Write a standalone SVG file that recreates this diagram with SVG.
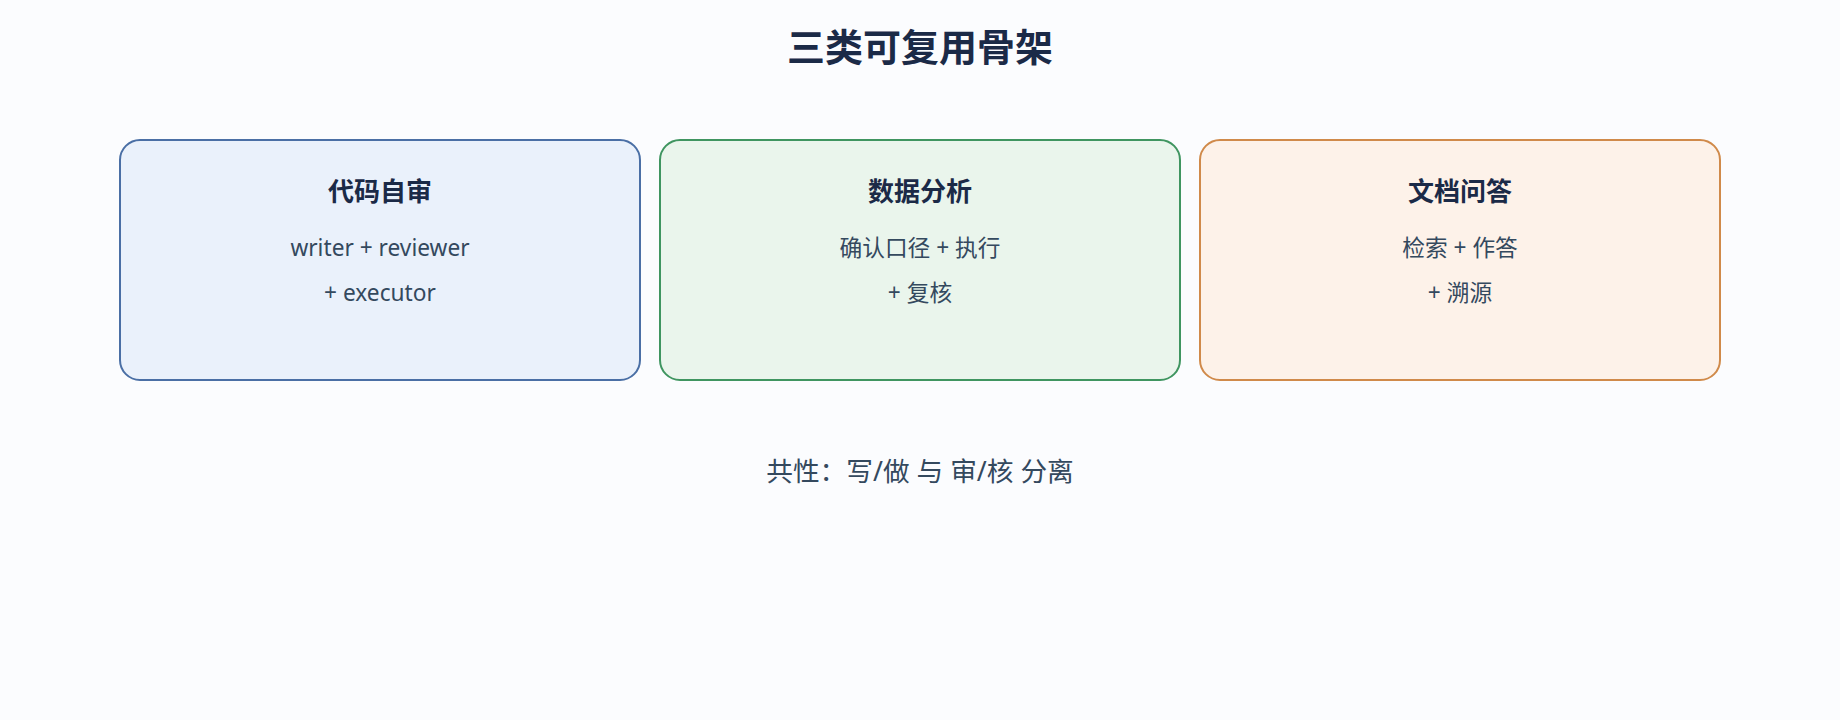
<svg xmlns="http://www.w3.org/2000/svg" width="1840" height="720" viewBox="0 0 1840 720">
<style>
.t{font-family:"Noto Sans","Noto Sans CJK SC",sans-serif;text-anchor:middle}
.title{font-size:38px;font-weight:700;fill:#1b2a47}
.h{font-size:26px;font-weight:700;fill:#1b2a47}
.s{font-size:22.7px;fill:#34495e}
.f{font-size:26.7px;fill:#34495e}
</style>
<rect width="1840" height="720" fill="#fbfcfe"/>
<text class="t title" x="920" y="61">三类可复用骨架</text>
<g id="code-review">
<rect x="120" y="140" width="520" height="240" rx="20" fill="#eaf1fb" stroke="#4a6fa5" stroke-width="2"/>
<text class="t h" x="380" y="201">代码自审</text>
<text class="t s" x="380" y="256">writer + reviewer</text>
<text class="t s" x="380" y="301">+ executor</text>
</g>
<g id="data-analysis">
<rect x="660" y="140" width="520" height="240" rx="20" fill="#eaf5ec" stroke="#3f9560" stroke-width="2"/>
<text class="t h" x="920" y="201">数据分析</text>
<text class="t s" x="920" y="256">确认口径 + 执行</text>
<text class="t s" x="920" y="301">+ 复核</text>
</g>
<g id="doc-qa">
<rect x="1200" y="140" width="520" height="240" rx="20" fill="#fdf2e9" stroke="#d08a4a" stroke-width="2"/>
<text class="t h" x="1460" y="201">文档问答</text>
<text class="t s" x="1460" y="256">检索 + 作答</text>
<text class="t s" x="1460" y="301">+ 溯源</text>
</g>
<g id="connectors"></g>
<text class="t f" x="920" y="481">共性：写/做 与 审/核 分离</text>
</svg>
